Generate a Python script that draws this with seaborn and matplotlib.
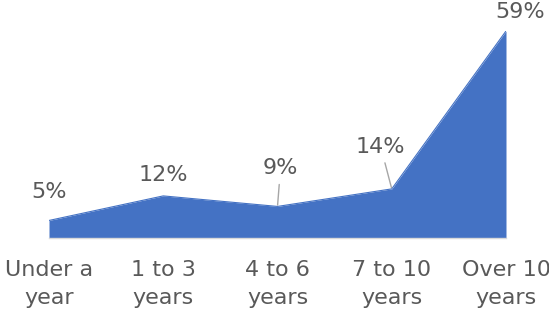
import matplotlib
matplotlib.use("Agg")
import matplotlib.pyplot as plt
import seaborn as sns
import pandas as pd

# Data
categories = ["Under a\nyear", "1 to 3\nyears", "4 to 6\nyears", "7 to 10\nyears", "Over 10\nyears"]
values = [5, 12, 9, 14, 59]

df = pd.DataFrame({"pos": range(len(categories)), "share": values})

sns.set_style("white")
plt.rcParams["font.family"] = ["DejaVu Sans"]

blue = "#4472C4"
text_col = "#595959"
grid_col = "#D9D9D9"

fig = plt.figure(figsize=(5.49, 3.17), dpi=100)
ax = fig.add_axes([49 / 549, 79 / 317, 457 / 549, 207 / 317])

sns.lineplot(data=df, x="pos", y="share", color=blue, linewidth=0.8, ax=ax)
ax.fill_between(df["pos"], 0, df["share"], color=blue, linewidth=0)

ax.set_xlim(0, len(categories) - 1)
ax.set_ylim(0, max(values))
ax.set_xlabel("")
ax.set_ylabel("")
ax.set_yticks([])
ax.set_xticks(df["pos"])
ax.set_xticklabels(categories, fontsize=16, color=text_col, linespacing=1.5)
ax.tick_params(axis="x", length=8, width=1, color=grid_col, pad=8)

for side in ["top", "left", "right"]:
    ax.spines[side].set_visible(False)
ax.spines["bottom"].set_color(grid_col)
ax.spines["bottom"].set_linewidth(1)

# data labels (some with leader lines), offsets in pixels
offsets = [(0, 18), (0, 11), (3, 28), (-11, 32), (14, 9)]
leaders = [False, False, True, True, False]
for i, v in enumerate(values):
    dx, dy = offsets[i]
    props = dict(arrowstyle="-", color="#A6A6A6", lw=1, shrinkA=2, shrinkB=1) if leaders[i] else None
    ax.annotate(f"{v}%", xy=(i, v), xytext=(i + dx * 4 / 457, v + dy * 59 / 207),
                textcoords="data", ha="center", va="bottom", fontsize=16,
                color=text_col, arrowprops=props, annotation_clip=False)

fig.savefig("out.png", dpi=100)
